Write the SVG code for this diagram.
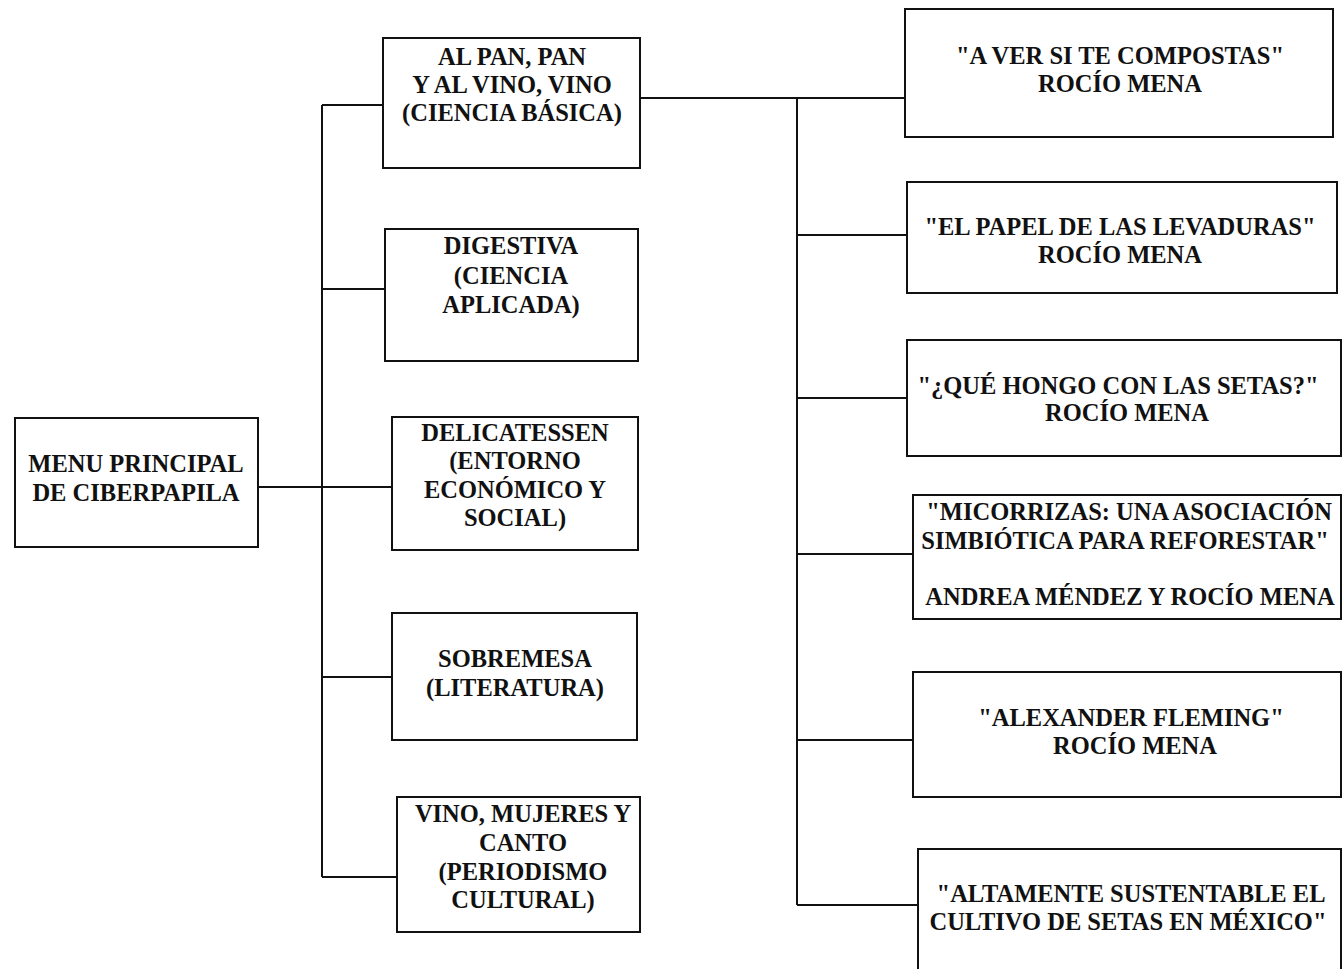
<svg xmlns="http://www.w3.org/2000/svg" width="1342" height="969" viewBox="0 0 1342 969">
<style>
.box{fill:#fff;stroke:#111;stroke-width:2}
.t{font-family:"Liberation Serif","Times New Roman",serif;font-weight:bold;font-size:24.5px;fill:#111;text-anchor:middle}
.c{fill:none;stroke:#111;stroke-width:2}
</style>
<rect width="1342" height="969" fill="#fff"/>
<g id="connectors">
<path class="c" d="M258,487 H392"/>
<path class="c" d="M322,105 V877"/>
<path class="c" d="M322,105 H383"/>
<path class="c" d="M322,289 H385"/>
<path class="c" d="M322,677 H392"/>
<path class="c" d="M322,877 H397"/>
<path class="c" d="M640,98 H905"/>
<path class="c" d="M797,98 V905"/>
<path class="c" d="M797,235 H907"/>
<path class="c" d="M797,398 H907"/>
<path class="c" d="M797,554 H913"/>
<path class="c" d="M797,740 H913"/>
<path class="c" d="M797,905 H918"/>
</g>
<g id="menu-principal">
<rect class="box" x="15" y="418" width="243" height="129"/>
<text class="t" x="136" y="472">MENU PRINCIPAL</text>
<text class="t" x="136" y="501">DE CIBERPAPILA</text>
</g>
<g id="al-pan">
<rect class="box" x="383" y="38" width="257" height="130"/>
<text class="t" x="512" y="65">AL PAN, PAN</text>
<text class="t" x="512" y="93">Y AL VINO, VINO</text>
<text class="t" x="512" y="121">(CIENCIA BÁSICA)</text>
</g>
<g id="digestiva">
<rect class="box" x="385" y="229" width="253" height="132"/>
<text class="t" x="511" y="254">DIGESTIVA</text>
<text class="t" x="511" y="284">(CIENCIA</text>
<text class="t" x="511" y="313">APLICADA)</text>
</g>
<g id="delicatessen">
<rect class="box" x="392" y="417" width="246" height="133"/>
<text class="t" x="515" y="441">DELICATESSEN</text>
<text class="t" x="515" y="469">(ENTORNO</text>
<text class="t" x="515" y="498">ECONÓMICO Y</text>
<text class="t" x="515" y="526">SOCIAL)</text>
</g>
<g id="sobremesa">
<rect class="box" x="392" y="613" width="245" height="127"/>
<text class="t" x="515" y="667">SOBREMESA</text>
<text class="t" x="515" y="696">(LITERATURA)</text>
</g>
<g id="vino-mujeres">
<rect class="box" x="397" y="797" width="243" height="135"/>
<text class="t" x="523" y="822">VINO, MUJERES Y</text>
<text class="t" x="523" y="851">CANTO</text>
<text class="t" x="523" y="880">(PERIODISMO</text>
<text class="t" x="523" y="908">CULTURAL)</text>
</g>
<g id="compostas">
<rect class="box" x="905" y="9" width="428" height="128"/>
<text class="t" x="1120" y="64">"A VER SI TE COMPOSTAS"</text>
<text class="t" x="1120" y="92">ROCÍO MENA</text>
</g>
<g id="levaduras">
<rect class="box" x="907" y="182" width="430" height="111"/>
<text class="t" x="1120" y="235">"EL PAPEL DE LAS LEVADURAS"</text>
<text class="t" x="1120" y="263">ROCÍO  MENA</text>
</g>
<g id="setas">
<rect class="box" x="907" y="340" width="434" height="116"/>
<text class="t" x="1118" y="394">"¿QUÉ HONGO CON LAS SETAS?"</text>
<text class="t" x="1127" y="421">ROCÍO MENA</text>
</g>
<g id="micorrizas">
<rect class="box" x="913" y="495" width="428" height="124"/>
<text class="t" x="1129" y="520">"MICORRIZAS: UNA ASOCIACIÓN</text>
<text class="t" x="1125" y="549">SIMBIÓTICA PARA REFORESTAR"</text>
<text class="t" x="1130" y="605">ANDREA MÉNDEZ Y ROCÍO MENA</text>
</g>
<g id="fleming">
<rect class="box" x="913" y="672" width="428" height="125"/>
<text class="t" x="1131" y="726">"ALEXANDER FLEMING"</text>
<text class="t" x="1135" y="754">ROCÍO MENA</text>
</g>
<g id="sustentable">
<rect class="box" x="918" y="849" width="423" height="130"/>
<text class="t" x="1131" y="902">"ALTAMENTE SUSTENTABLE EL</text>
<text class="t" x="1128" y="930">CULTIVO DE SETAS EN MÉXICO"</text>
</g>
</svg>
